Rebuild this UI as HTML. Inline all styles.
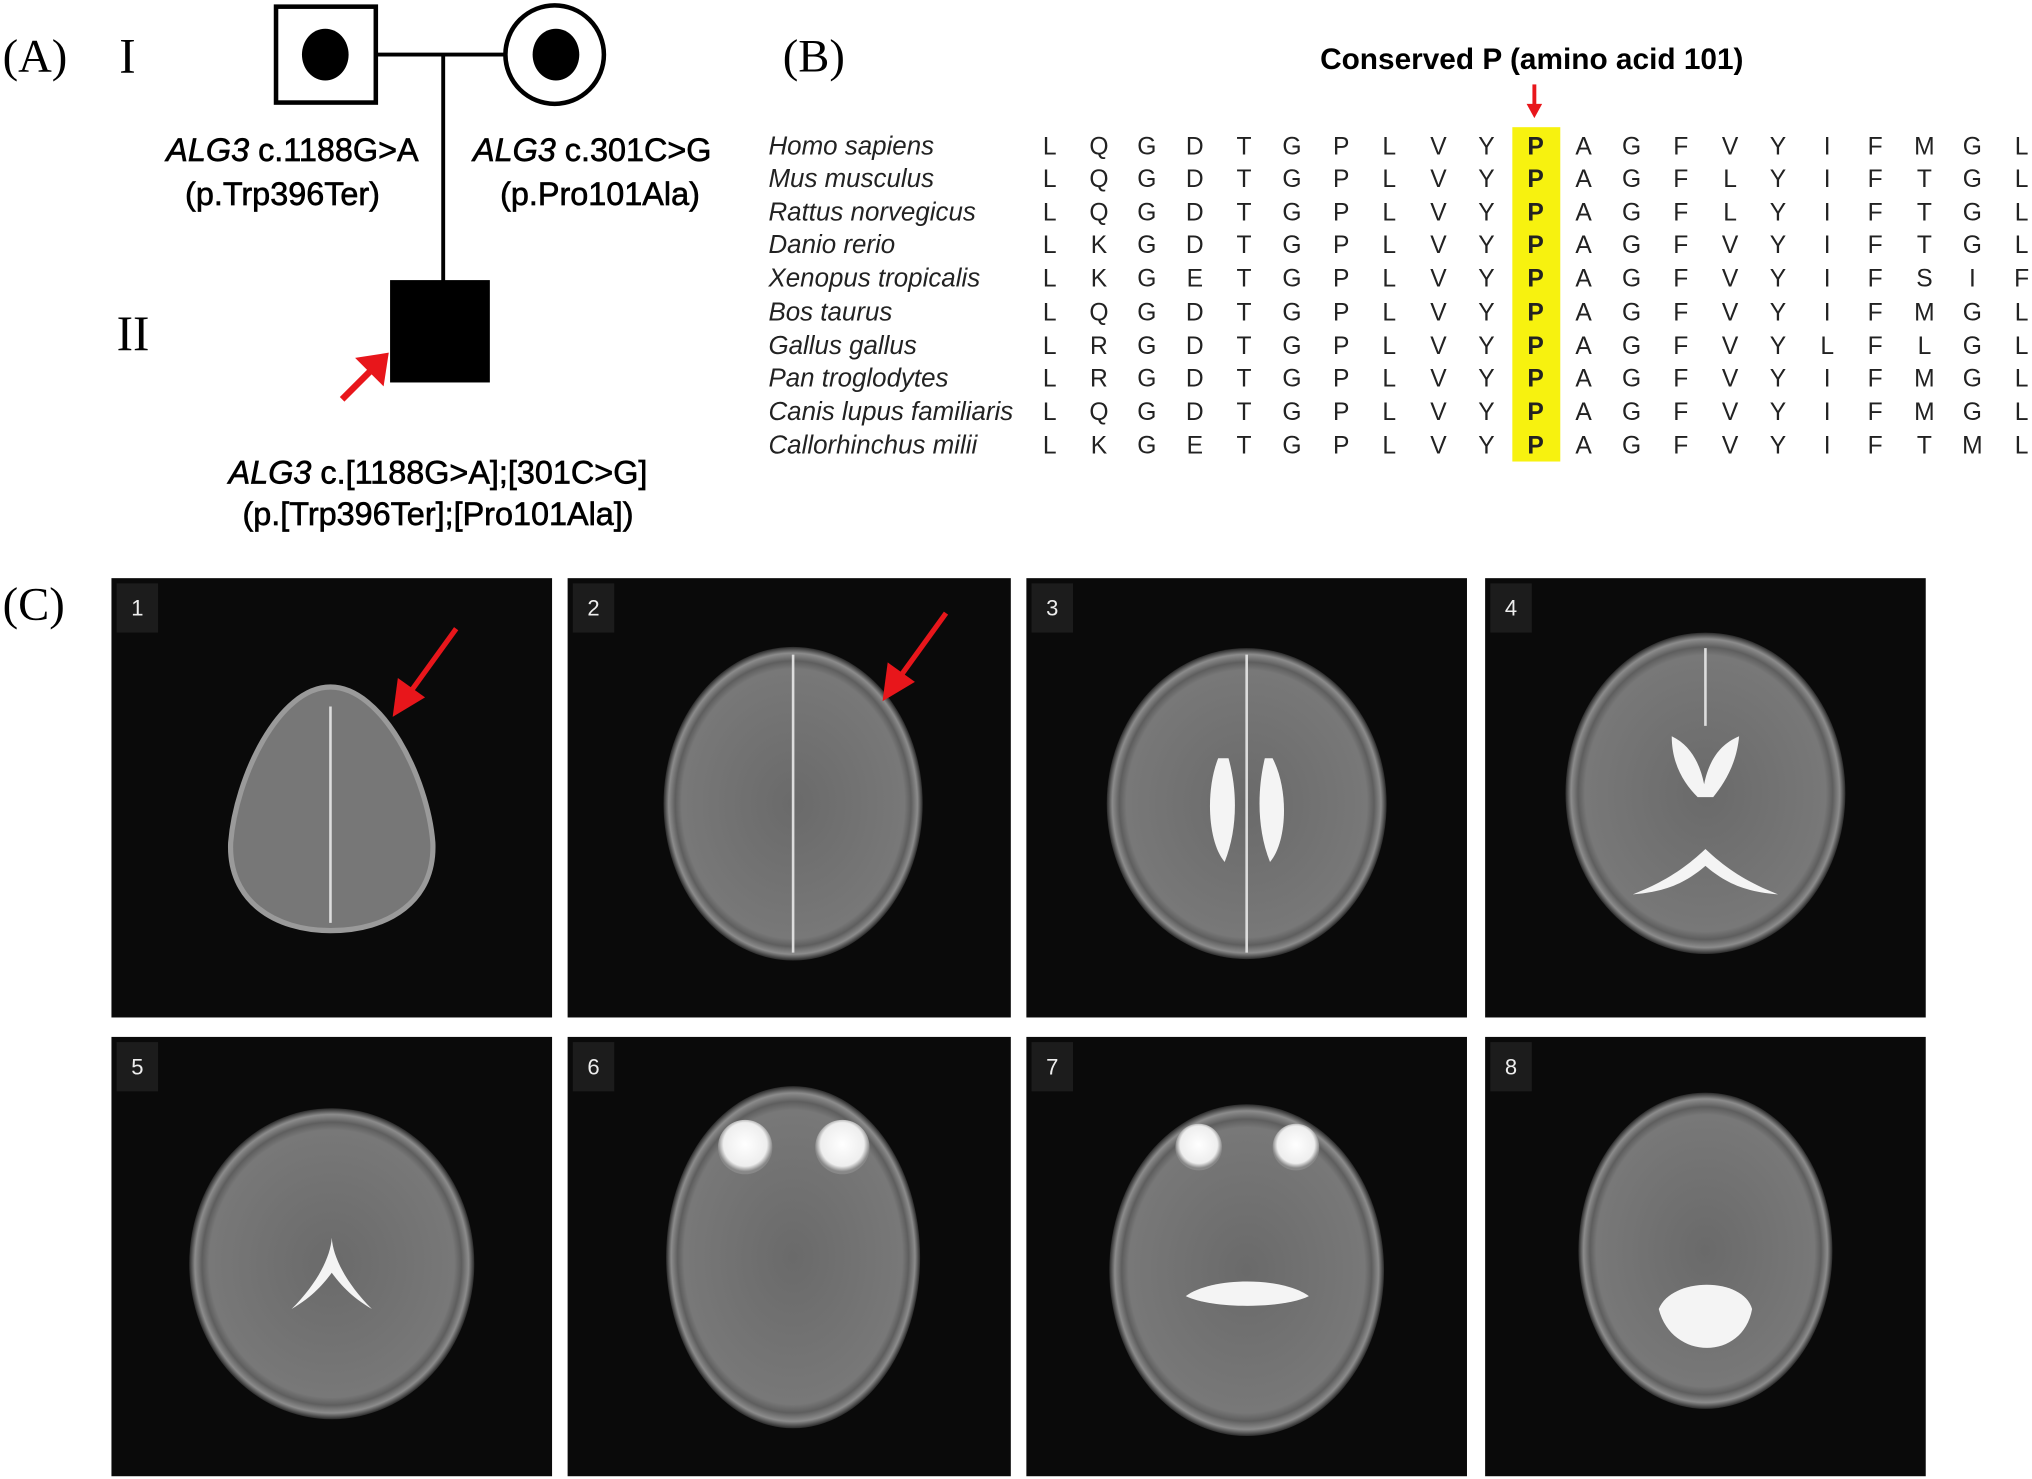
<!DOCTYPE html>
<html><head><meta charset="utf-8"><style>
html,body{margin:0;padding:0;background:#fff;overflow:hidden}
svg{display:block}
.ser{font-family:"Liberation Serif",serif}
.sans{font-family:"Liberation Sans",sans-serif}
</style></head><body>
<svg width="2032" height="1479" viewBox="0 0 1568 1141" xmlns="http://www.w3.org/2000/svg">
<defs>
<radialGradient id="br" cx="50%" cy="50%" r="50%">
<stop offset="0" stop-color="#6a6a6a"/><stop offset="0.86" stop-color="#787878"/><stop offset="0.91" stop-color="#5e5e5e"/><stop offset="0.96" stop-color="#8c8c8c"/><stop offset="1" stop-color="#2a2a2a"/>
</radialGradient>
<radialGradient id="eye" cx="50%" cy="45%" r="50%"><stop offset="0" stop-color="#fff"/><stop offset="0.8" stop-color="#eee"/><stop offset="1" stop-color="#888"/></radialGradient>
</defs>
<rect width="1568" height="1141" fill="#fff"/>
<!-- (A) pedigree -->
<text class="ser" x="2" y="55" font-size="36">(A)</text>
<text class="ser" x="92" y="56" font-size="38">I</text>
<text class="ser" x="90" y="270" font-size="38">II</text>
<rect x="213" y="5" width="77" height="74" fill="#fff" stroke="#000" stroke-width="3.5"/>
<ellipse cx="251" cy="42" rx="18" ry="20" fill="#000"/>
<line x1="290" y1="42" x2="390" y2="42" stroke="#000" stroke-width="3"/>
<circle cx="428" cy="42" r="38" fill="#fff" stroke="#000" stroke-width="3.5"/>
<ellipse cx="429" cy="42" rx="18" ry="20" fill="#000"/>
<line x1="342" y1="42" x2="342" y2="217" stroke="#000" stroke-width="3"/>
<rect x="301" y="216" width="77" height="79" fill="#000"/>
<line x1="264" y1="308" x2="286" y2="286" stroke="#e8161b" stroke-width="5"/>
<path d="M300,272 L296,298 L274,276 z" fill="#e8161b"/>
<g class="sans" font-size="25" fill="#000" stroke="#000" stroke-width="0.5">
<text x="323" y="124" text-anchor="end"><tspan font-style="italic">ALG3</tspan> c.1188G&gt;A</text>
<text x="218" y="158" text-anchor="middle">(p.Trp396Ter)</text>
<text x="365" y="124"><tspan font-style="italic">ALG3</tspan> c.301C&gt;G</text>
<text x="463" y="158" text-anchor="middle">(p.Pro101Ala)</text>
<text x="338" y="373" text-anchor="middle"><tspan font-style="italic">ALG3</tspan> c.[1188G&gt;A];[301C&gt;G]</text>
<text x="338" y="405" text-anchor="middle">(p.[Trp396Ter];[Pro101Ala])</text>
</g>
<!-- (B) -->
<text class="ser" x="604" y="55" font-size="36">(B)</text>
<text class="sans" x="1182" y="53" font-size="23" font-weight="bold" text-anchor="middle">Conserved P (amino acid 101)</text>
<line x1="1184" y1="65" x2="1184" y2="82" stroke="#e8161b" stroke-width="3"/>
<path d="M1178,80 L1190,80 L1184,91 z" fill="#e8161b"/>
<rect x="1167" y="98" width="37" height="258" fill="#f7f20f"/>
<g class="sans" font-size="19" fill="#222">
<g font-style="italic" font-size="20">
<text x="593" y="119">Homo sapiens</text>
<text x="593" y="144">Mus musculus</text>
<text x="593" y="170">Rattus norvegicus</text>
<text x="593" y="195">Danio rerio</text>
<text x="593" y="221">Xenopus tropicalis</text>
<text x="593" y="247">Bos taurus</text>
<text x="593" y="273">Gallus gallus</text>
<text x="593" y="298">Pan troglodytes</text>
<text x="593" y="324">Canis lupus familiaris</text>
<text x="593" y="350">Callorhinchus milii</text>
</g>
<g text-anchor="middle">
<text y="119"><tspan x="810">L</tspan><tspan x="848">Q</tspan><tspan x="885">G</tspan><tspan x="922">D</tspan><tspan x="960">T</tspan><tspan x="997">G</tspan><tspan x="1035">P</tspan><tspan x="1072">L</tspan><tspan x="1110">V</tspan><tspan x="1147">Y</tspan><tspan x="1185" font-weight="bold">P</tspan><tspan x="1222">A</tspan><tspan x="1259">G</tspan><tspan x="1297">F</tspan><tspan x="1335">V</tspan><tspan x="1372">Y</tspan><tspan x="1410">I</tspan><tspan x="1447">F</tspan><tspan x="1485">M</tspan><tspan x="1522">G</tspan><tspan x="1560">L</tspan></text>
<text y="144"><tspan x="810">L</tspan><tspan x="848">Q</tspan><tspan x="885">G</tspan><tspan x="922">D</tspan><tspan x="960">T</tspan><tspan x="997">G</tspan><tspan x="1035">P</tspan><tspan x="1072">L</tspan><tspan x="1110">V</tspan><tspan x="1147">Y</tspan><tspan x="1185" font-weight="bold">P</tspan><tspan x="1222">A</tspan><tspan x="1259">G</tspan><tspan x="1297">F</tspan><tspan x="1335">L</tspan><tspan x="1372">Y</tspan><tspan x="1410">I</tspan><tspan x="1447">F</tspan><tspan x="1485">T</tspan><tspan x="1522">G</tspan><tspan x="1560">L</tspan></text>
<text y="170"><tspan x="810">L</tspan><tspan x="848">Q</tspan><tspan x="885">G</tspan><tspan x="922">D</tspan><tspan x="960">T</tspan><tspan x="997">G</tspan><tspan x="1035">P</tspan><tspan x="1072">L</tspan><tspan x="1110">V</tspan><tspan x="1147">Y</tspan><tspan x="1185" font-weight="bold">P</tspan><tspan x="1222">A</tspan><tspan x="1259">G</tspan><tspan x="1297">F</tspan><tspan x="1335">L</tspan><tspan x="1372">Y</tspan><tspan x="1410">I</tspan><tspan x="1447">F</tspan><tspan x="1485">T</tspan><tspan x="1522">G</tspan><tspan x="1560">L</tspan></text>
<text y="195"><tspan x="810">L</tspan><tspan x="848">K</tspan><tspan x="885">G</tspan><tspan x="922">D</tspan><tspan x="960">T</tspan><tspan x="997">G</tspan><tspan x="1035">P</tspan><tspan x="1072">L</tspan><tspan x="1110">V</tspan><tspan x="1147">Y</tspan><tspan x="1185" font-weight="bold">P</tspan><tspan x="1222">A</tspan><tspan x="1259">G</tspan><tspan x="1297">F</tspan><tspan x="1335">V</tspan><tspan x="1372">Y</tspan><tspan x="1410">I</tspan><tspan x="1447">F</tspan><tspan x="1485">T</tspan><tspan x="1522">G</tspan><tspan x="1560">L</tspan></text>
<text y="221"><tspan x="810">L</tspan><tspan x="848">K</tspan><tspan x="885">G</tspan><tspan x="922">E</tspan><tspan x="960">T</tspan><tspan x="997">G</tspan><tspan x="1035">P</tspan><tspan x="1072">L</tspan><tspan x="1110">V</tspan><tspan x="1147">Y</tspan><tspan x="1185" font-weight="bold">P</tspan><tspan x="1222">A</tspan><tspan x="1259">G</tspan><tspan x="1297">F</tspan><tspan x="1335">V</tspan><tspan x="1372">Y</tspan><tspan x="1410">I</tspan><tspan x="1447">F</tspan><tspan x="1485">S</tspan><tspan x="1522">I</tspan><tspan x="1560">F</tspan></text>
<text y="247"><tspan x="810">L</tspan><tspan x="848">Q</tspan><tspan x="885">G</tspan><tspan x="922">D</tspan><tspan x="960">T</tspan><tspan x="997">G</tspan><tspan x="1035">P</tspan><tspan x="1072">L</tspan><tspan x="1110">V</tspan><tspan x="1147">Y</tspan><tspan x="1185" font-weight="bold">P</tspan><tspan x="1222">A</tspan><tspan x="1259">G</tspan><tspan x="1297">F</tspan><tspan x="1335">V</tspan><tspan x="1372">Y</tspan><tspan x="1410">I</tspan><tspan x="1447">F</tspan><tspan x="1485">M</tspan><tspan x="1522">G</tspan><tspan x="1560">L</tspan></text>
<text y="273"><tspan x="810">L</tspan><tspan x="848">R</tspan><tspan x="885">G</tspan><tspan x="922">D</tspan><tspan x="960">T</tspan><tspan x="997">G</tspan><tspan x="1035">P</tspan><tspan x="1072">L</tspan><tspan x="1110">V</tspan><tspan x="1147">Y</tspan><tspan x="1185" font-weight="bold">P</tspan><tspan x="1222">A</tspan><tspan x="1259">G</tspan><tspan x="1297">F</tspan><tspan x="1335">V</tspan><tspan x="1372">Y</tspan><tspan x="1410">L</tspan><tspan x="1447">F</tspan><tspan x="1485">L</tspan><tspan x="1522">G</tspan><tspan x="1560">L</tspan></text>
<text y="298"><tspan x="810">L</tspan><tspan x="848">R</tspan><tspan x="885">G</tspan><tspan x="922">D</tspan><tspan x="960">T</tspan><tspan x="997">G</tspan><tspan x="1035">P</tspan><tspan x="1072">L</tspan><tspan x="1110">V</tspan><tspan x="1147">Y</tspan><tspan x="1185" font-weight="bold">P</tspan><tspan x="1222">A</tspan><tspan x="1259">G</tspan><tspan x="1297">F</tspan><tspan x="1335">V</tspan><tspan x="1372">Y</tspan><tspan x="1410">I</tspan><tspan x="1447">F</tspan><tspan x="1485">M</tspan><tspan x="1522">G</tspan><tspan x="1560">L</tspan></text>
<text y="324"><tspan x="810">L</tspan><tspan x="848">Q</tspan><tspan x="885">G</tspan><tspan x="922">D</tspan><tspan x="960">T</tspan><tspan x="997">G</tspan><tspan x="1035">P</tspan><tspan x="1072">L</tspan><tspan x="1110">V</tspan><tspan x="1147">Y</tspan><tspan x="1185" font-weight="bold">P</tspan><tspan x="1222">A</tspan><tspan x="1259">G</tspan><tspan x="1297">F</tspan><tspan x="1335">V</tspan><tspan x="1372">Y</tspan><tspan x="1410">I</tspan><tspan x="1447">F</tspan><tspan x="1485">M</tspan><tspan x="1522">G</tspan><tspan x="1560">L</tspan></text>
<text y="350"><tspan x="810">L</tspan><tspan x="848">K</tspan><tspan x="885">G</tspan><tspan x="922">E</tspan><tspan x="960">T</tspan><tspan x="997">G</tspan><tspan x="1035">P</tspan><tspan x="1072">L</tspan><tspan x="1110">V</tspan><tspan x="1147">Y</tspan><tspan x="1185" font-weight="bold">P</tspan><tspan x="1222">A</tspan><tspan x="1259">G</tspan><tspan x="1297">F</tspan><tspan x="1335">V</tspan><tspan x="1372">Y</tspan><tspan x="1410">I</tspan><tspan x="1447">F</tspan><tspan x="1485">T</tspan><tspan x="1522">M</tspan><tspan x="1560">L</tspan></text>
</g>
</g>
<!-- (C) -->
<text class="ser" x="2" y="478" font-size="36">(C)</text>
<g fill="#0a0a0a">
<rect x="86" y="446" width="340" height="339"/><rect x="438" y="446" width="342" height="339"/><rect x="792" y="446" width="340" height="339"/><rect x="1146" y="446" width="340" height="339"/>
<rect x="86" y="800" width="340" height="339"/><rect x="438" y="800" width="342" height="339"/><rect x="792" y="800" width="340" height="339"/><rect x="1146" y="800" width="340" height="339"/>
</g>
<g fill="#1c1c1c">
<rect x="90" y="450" width="32" height="38"/><rect x="442" y="450" width="32" height="38"/><rect x="796" y="450" width="32" height="38"/><rect x="1150" y="450" width="32" height="38"/>
<rect x="90" y="804" width="32" height="38"/><rect x="442" y="804" width="32" height="38"/><rect x="796" y="804" width="32" height="38"/><rect x="1150" y="804" width="32" height="38"/>
</g>
<g class="sans" font-size="17" fill="#eee" text-anchor="middle">
<text x="106" y="475">1</text><text x="458" y="475">2</text><text x="812" y="475">3</text><text x="1166" y="475">4</text>
<text x="106" y="829">5</text><text x="458" y="829">6</text><text x="812" y="829">7</text><text x="1166" y="829">8</text>
</g>
<!-- brains -->
<g>
<path d="M255,530 C295,530 330,600 334,650 C336,695 300,718 255,718 C212,718 176,695 178,650 C182,600 215,530 255,530 z" fill="#777" stroke="#9a9a9a" stroke-width="4"/>
<ellipse cx="612" cy="620" rx="100" ry="121" fill="url(#br)"/>
<ellipse cx="962" cy="620" rx="108" ry="120" fill="url(#br)"/>
<ellipse cx="1316" cy="612" rx="108" ry="124" fill="url(#br)"/>
<ellipse cx="256" cy="975" rx="110" ry="120" fill="url(#br)"/>
<ellipse cx="612" cy="970" rx="98" ry="132" fill="url(#br)"/>
<ellipse cx="962" cy="980" rx="106" ry="128" fill="url(#br)"/>
<ellipse cx="1316" cy="965" rx="98" ry="122" fill="url(#br)"/>
</g>
<g stroke="#ddd" stroke-width="2" fill="none">
<line x1="255" y1="545" x2="255" y2="712"/>
<line x1="612" y1="505" x2="612" y2="735"/>
<line x1="962" y1="505" x2="962" y2="735"/>
<line x1="1316" y1="500" x2="1316" y2="560"/>
</g>
<g fill="#f4f4f4">
<path d="M940,585 C930,610 932,650 945,665 C955,640 955,610 948,585 z"/>
<path d="M982,585 C995,610 993,650 980,665 C970,640 970,610 976,585 z"/>
<path d="M1290,568 C1305,575 1312,590 1315,605 C1318,590 1325,575 1342,568 C1340,590 1330,605 1322,615 L1310,615 C1300,605 1290,590 1290,568 z"/>
<path d="M1260,690 C1285,680 1300,670 1316,655 C1332,670 1347,680 1372,690 C1345,688 1330,680 1316,668 C1302,680 1287,688 1260,690 z"/>
<path d="M225,1010 C245,990 255,970 256,955 C257,970 267,990 287,1010 C270,1000 262,990 256,982 C250,990 242,1000 225,1010 z"/>
<path d="M1280,1010 C1290,985 1345,985 1352,1010 C1345,1050 1290,1050 1280,1010 z"/>
<path d="M915,1000 C935,985 990,985 1010,1000 C990,1010 935,1010 915,1000 z"/>
</g>
<circle cx="575" cy="885" r="21" fill="url(#eye)"/><circle cx="650" cy="885" r="21" fill="url(#eye)"/>
<circle cx="925" cy="885" r="18" fill="url(#eye)"/><circle cx="1000" cy="885" r="18" fill="url(#eye)"/>
<!-- red arrows -->
<line x1="352" y1="485" x2="318" y2="532" stroke="#e8161b" stroke-width="4"/>
<path d="M303,553 L307,523 L328,538 z" fill="#e8161b"/>
<line x1="730" y1="473" x2="696" y2="520" stroke="#e8161b" stroke-width="4"/>
<path d="M681,541 L685,511 L706,526 z" fill="#e8161b"/>
</svg>
</body></html>
